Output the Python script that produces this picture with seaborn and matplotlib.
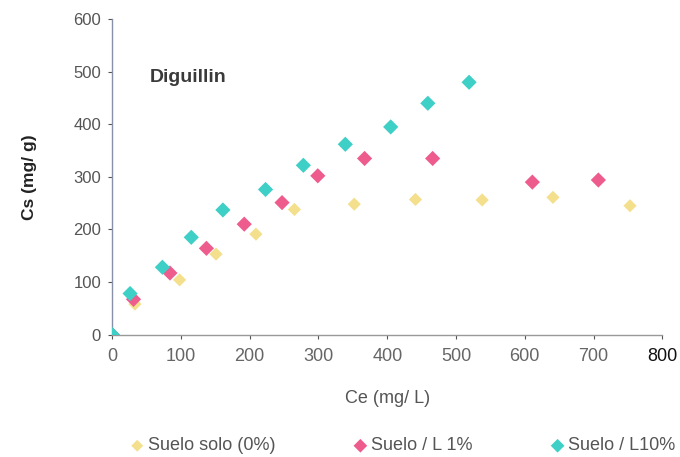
import matplotlib
matplotlib.use("Agg")
import matplotlib.pyplot as plt
import seaborn as sns
import pandas as pd

sns.set_style("white")
plt.rcParams['font.family'] = ['Liberation Sans', 'DejaVu Sans']

series_names = ["Suelo solo (0%)", "Suelo / L 1%", "Suelo / L10%"]
ce_solo = [0, 33, 98, 151, 209, 265, 352, 441, 538, 641, 753]
cs_solo = [0, 58, 104, 153, 191, 238, 248, 257, 256, 261, 245]
ce_l1 = [0, 31, 84, 137, 192, 247, 299, 367, 466, 611, 707]
cs_l1 = [0, 67, 117, 164, 210, 251, 302, 335, 335, 290, 294]
ce_l10 = [0, 26, 73, 115, 161, 223, 278, 339, 405, 459, 519]
cs_l10 = [0, 78, 128, 185, 237, 276, 322, 362, 395, 440, 480]
x_ticks = [0, 100, 200, 300, 400, 500, 600, 700, 800]
y_ticks = [0, 100, 200, 300, 400, 500, 600]

colors = {"Suelo solo (0%)": "#F4DF8C", "Suelo / L 1%": "#EE5C8E", "Suelo / L10%": "#3ECFC6"}
sizes = {"Suelo solo (0%)": 45, "Suelo / L 1%": 60, "Suelo / L10%": 60}

frames = []
for name, xs, ys in zip(series_names, [ce_solo, ce_l1, ce_l10], [cs_solo, cs_l1, cs_l10]):
    frames.append(pd.DataFrame({"Ce": xs, "Cs": ys, "serie": name}))
df = pd.concat(frames, ignore_index=True)

fig = plt.figure(figsize=(6.8, 4.57), dpi=100)
ax = fig.add_axes([0.165, 0.268, 0.809, 0.690])

for name in series_names:
    sub = df[df["serie"] == name]
    sns.scatterplot(data=sub, x="Ce", y="Cs", ax=ax, marker="D", s=sizes[name],
                    color=colors[name], edgecolor="none", label=name, zorder=3)

ax.set_xlim(0, 800)
ax.set_ylim(0, 600)
ax.set_xticks(x_ticks)
ax.set_yticks(y_ticks)
ax.tick_params(axis="x", labelsize=13, colors="#555555", length=3, direction="out", pad=7)
ax.tick_params(axis="y", labelsize=12, colors="#555555", length=3, direction="out", pad=5)
for t in ax.get_xticklabels():
    t.set_color("#666666")
ax.get_xticklabels()[-1].set_color("#111111")
for s in ["top", "right"]:
    ax.spines[s].set_visible(False)
ax.spines["left"].set_color("#8890a8")
ax.spines["bottom"].set_color("#999999")
ax.spines["left"].set_linewidth(1.0)
ax.spines["bottom"].set_linewidth(1.0)
ax.tick_params(axis="both", which="both", bottom=True, left=True)

ax.set_xlabel("Ce (mg/ L)", fontsize=13, color="#555555", labelpad=18)
ax.set_ylabel("Cs (mg/ g)", fontsize=12.5, fontweight="bold", color="#222222", labelpad=26)
ax.text(0.069, 0.816, "Diguillin", transform=ax.transAxes, fontsize=14, color="#3a3a3a",
        fontweight="semibold", va="center")

leg = ax.legend(loc="upper center", bbox_to_anchor=(0.525, -0.275), ncol=3, frameon=False,
                fontsize=13, handletextpad=0.0, handlelength=1.2, columnspacing=4.1,
                markerscale=0.9)
for t in leg.get_texts():
    t.set_color("#555555")

fig.savefig("out.png", dpi=100)
